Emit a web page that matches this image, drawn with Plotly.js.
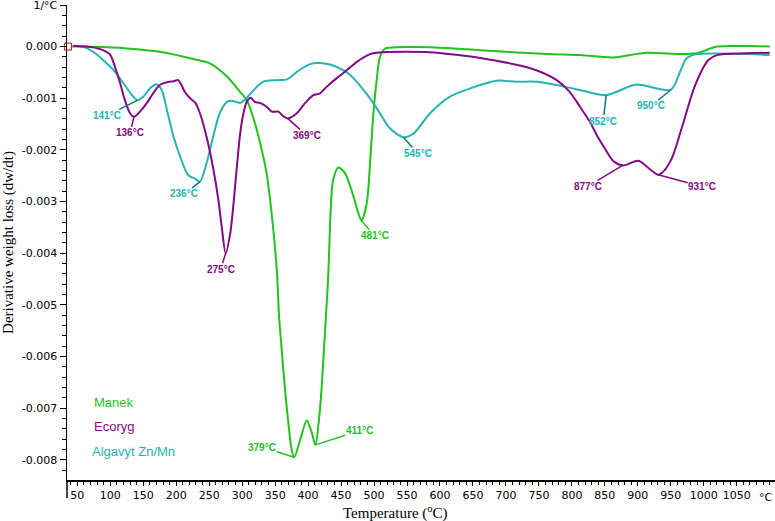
<!DOCTYPE html>
<html><head><meta charset="utf-8">
<script src="https://cdn.plot.ly/plotly-3.0.1.min.js"></script>
<style>html,body{margin:0;padding:0;background:#fff}#chart{width:775px;height:521px}</style>
</head><body><div id="chart"></div>
<script>
// ---- data ----
const manekT = [42,74,125,175,226,251,277,297,307,317,327,337,347,353,356,360,365,370,375,379,388,398,405,411,417,421,424,427,430,432,434,438,446,456,469,476,481,489,494,499,504,509,517,534,585,661,762,812,863,913,964,989,1020,1065,1100];
const manekV = [0,-0.000004,-0.000035,-0.0001,-0.00024,-0.000325,-0.00058,-0.00088,-0.001035,-0.00138,-0.00185,-0.00245,-0.00351,-0.00442,-0.00523,-0.00587,-0.00664,-0.00728,-0.0078,-0.00795,-0.00761,-0.00724,-0.00745,-0.00771,-0.00716,-0.00651,-0.00587,-0.00523,-0.00457,-0.00394,-0.00322,-0.00258,-0.00234,-0.00245,-0.00291,-0.00322,-0.00337,-0.00303,-0.00225,-0.00129,-0.00065,-0.0002,-0.000035,-0.000015,-0.000015,-0.00007,-0.000145,-0.000165,-0.00021,-0.00012,-0.000145,-0.00013,0,0.00001,0];

const ecorygT = [44,74,89,100,107,115,122,130,136,145,155,165,175,186,196,203,208,213,221,229,236,246,256,264,269,275,282,287,292,297,302,307,313,319,327,337,345,355,362,369,383,395,408,418,428,443,459,474,494,514,585,625,661,736,777,797,812,827,838,848,863,878,901,918,931,940,952,966,987,1007,1020,1065,1100];
const ecorygV = [0.000015,-0.000015,-0.00007,-0.00016,-0.00039,-0.00071,-0.00103,-0.00129,-0.00136,-0.00126,-0.0011,-0.000905,-0.000745,-0.00069,-0.00067,-0.00065,-0.000745,-0.000875,-0.001,-0.00109,-0.00129,-0.001745,-0.00235,-0.00297,-0.003485,-0.004,-0.00361,-0.00303,-0.002325,-0.00168,-0.00129,-0.00107,-0.00099,-0.00107,-0.00109,-0.001165,-0.00126,-0.00126,-0.001345,-0.00139,-0.00129,-0.0011,-0.00094,-0.000905,-0.00078,-0.000615,-0.000455,-0.000295,-0.000145,-0.00011,-0.00011,-0.00016,-0.00022,-0.000415,-0.00065,-0.00088,-0.00116,-0.00145,-0.00172,-0.00193,-0.00222,-0.0023,-0.00221,-0.00237,-0.00248,-0.0024,-0.00215,-0.0016,-0.000745,-0.00026,-0.000165,-0.00013,-0.00012];

const algavytT = [44,59,74,89,105,120,133,141,150,160,170,178,186,196,206,218,229,236,246,256,266,277,284,297,304,312,332,352,368,383,403,423,443,464,484,504,524,545,560,585,615,646,661,686,716,747,787,817,852,898,950,964,972,977,989,1065,1100];
const algavytV = [0.000015,-0.000004,-0.0001,-0.00026,-0.000455,-0.00071,-0.00094,-0.001035,-0.00097,-0.00081,-0.00073,-0.00084,-0.00123,-0.001745,-0.00213,-0.002485,-0.00256,-0.002615,-0.00226,-0.001745,-0.00129,-0.00107,-0.00105,-0.00109,-0.001035,-0.00092,-0.00068,-0.00065,-0.000635,-0.00049,-0.00034,-0.000325,-0.00039,-0.00055,-0.00084,-0.00119,-0.00158,-0.001755,-0.00168,-0.00129,-0.00097,-0.00081,-0.000745,-0.00066,-0.00068,-0.00068,-0.00077,-0.000855,-0.00094,-0.000735,-0.000835,-0.00049,-0.00026,-0.0002,-0.000145,-0.000145,-0.000165];

// peak labels
const manekPeakT = [379, 411, 481];
const manekPeakV = [-0.00795, -0.00771, -0.00337];
const ecorygPeakT = [136, 275, 369, 877, 931];
const ecorygPeakV = [-0.00136, -0.0040, -0.00139, -0.0023, -0.00248];
const algavytPeakT = [141, 236, 545, 852, 950];
const algavytPeakV = [-0.00104, -0.00262, -0.00176, -0.00094, -0.00084];

// start marker
const startT = [36];
const startV = [0];

// ticks
const xTickVals = [50,100,150,200,250,300,350,400,450,500,550,600,650,700,750,800,850,900,950,1000,1050];
const xTickText = ["50","100","150","200","250","300","350","400","450","500","550","600","650","700","750","800","850","900","950","1000","1050"];
const xUnitLabel = "°C";
const yTickVals = [-0.008,-0.007,-0.006,-0.005,-0.004,-0.003,-0.002,-0.001,0,0.0008];
const yTickText = ["-0.008","-0.007","-0.006","-0.005","-0.004","-0.003","-0.002","-0.001","0.000","1/°C"];

const seriesNames = ["Manek", "Ecoryg", "Algavyt Zn/Mn"];

// ---- styles ----
const GREEN = '#22c21f', PURPLE = '#840a84', TEAL = '#25b3b3', TEAL_DARK = '#127676';
const manekOff = [[-32,-10],[44,-14],[13,15]];
const ecorygOff = [[-4,16],[-5,16],[19,17],[-35,21],[44,12]];
const algavytOff = [[-30,15],[-16,12],[14,16],[-3,26],[-20,16]];

function peakAnns(T, V, off, color, lineColor) {
  return T.map((t, i) => ({
    x: t, y: V[i], xref: 'x', yref: 'y',
    text: '<b>' + t + '°C</b>',
    showarrow: true, arrowhead: 0, arrowwidth: 1.5, arrowcolor: lineColor,
    standoff: 0, startstandoff: 0, axref: 'pixel', ayref: 'pixel',
    ax: off[i][0], ay: off[i][1], borderpad: 0,
    font: {family: 'Liberation Sans, Arial, sans-serif', size: 10, color: color}
  }));
}

const lineBase = {mode: 'lines', type: 'scatter', hoverinfo: 'skip', showlegend: false};
const traces = [
  Object.assign({}, lineBase, {x: manekT, y: manekV, name: seriesNames[0], line: {color: GREEN, width: 2, shape: 'spline', smoothing: 0.8}}),
  Object.assign({}, lineBase, {x: algavytT, y: algavytV, name: seriesNames[2], line: {color: TEAL, width: 2, shape: 'spline', smoothing: 0.8}}),
  Object.assign({}, lineBase, {x: ecorygT, y: ecorygV, name: seriesNames[1], line: {color: PURPLE, width: 2, shape: 'spline', smoothing: 0.8}}),
  {type: 'scatter', mode: 'markers', x: startT, y: startV, showlegend: false, hoverinfo: 'skip', cliponaxis: false,
   marker: {symbol: 'square-open', size: 7, color: 'red', line: {width: 1, color: 'red'}}}
];

const legendColors = [GREEN, PURPLE, TEAL];
const legendY = [0.163, 0.112, 0.061];
const legendX = [0.035, 0.035, 0.0325];
const legendAnns = seriesNames.map((n, i) => ({
  xref: 'paper', yref: 'paper', x: legendX[i], y: legendY[i], xanchor: 'left', yanchor: 'middle',
  text: n, showarrow: false, font: {family: 'Liberation Sans, Arial, sans-serif', size: 13, color: legendColors[i]}
}));

const tickFont = {family: 'DejaVu Sans, Verdana, sans-serif', size: 11, color: '#000'};

const annotations = [].concat(
  peakAnns(manekPeakT, manekPeakV, manekOff, GREEN, GREEN),
  peakAnns(ecorygPeakT, ecorygPeakV, ecorygOff, PURPLE, PURPLE),
  peakAnns(algavytPeakT, algavytPeakV, algavytOff, TEAL, TEAL_DARK),
  legendAnns,
  [{xref: 'paper', yref: 'paper', x: 0.4633, y: -0.068, xanchor: 'center', yanchor: 'middle', showarrow: false,
    text: 'Temperature (<sup>o</sup>C)', font: {family: 'Liberation Serif, Times New Roman, serif', size: 15, color: '#000'}},
   {xref: 'paper', yref: 'paper', x: 0.999, y: -0.02, xanchor: 'right', yanchor: 'top', showarrow: false,
    text: xUnitLabel, font: tickFont, borderpad: 0}]
);

const layout = {
  width: 775, height: 521,
  margin: {l: 67, r: 0, t: 5, b: 41, pad: 0},
  paper_bgcolor: '#fff', plot_bgcolor: '#fff',
  showlegend: false,
  xaxis: {
    range: [34.4, 1108], showgrid: false, zeroline: false,
    showline: true, linecolor: '#000', linewidth: 1.5,
    ticks: 'outside', ticklen: 4, tickwidth: 1, tickcolor: '#000',
    tickmode: 'array', tickvals: xTickVals, ticktext: xTickText, tickfont: tickFont,
    ticklabeloverflow: 'allow',
    minor: {ticks: 'outside', ticklen: 3, tickwidth: 1, tickcolor: '#000', tickmode: 'linear', tick0: 0, dtick: 10}
  },
  yaxis: {
    range: [-0.00839, 0.000805], showgrid: false, zeroline: false,
    showline: true, linecolor: '#000', linewidth: 1.5,
    ticks: 'outside', ticklen: 6, tickwidth: 1, tickcolor: '#000',
    tickmode: 'array', tickvals: yTickVals, ticktext: yTickText, tickfont: tickFont,
    ticklabeloverflow: 'allow',
    minor: {ticks: 'outside', ticklen: 4, tickwidth: 1, tickcolor: '#000', tickmode: 'linear', tick0: 0, dtick: 0.0002},
    title: {text: 'Derivative weight loss (dw/dt)', standoff: 4, font: {family: 'Liberation Serif, Times New Roman, serif', size: 15, color: '#000'}}
  },
  shapes: [{type: 'line', xref: 'paper', yref: 'paper', x0: 0, x1: 0, y0: 0, y1: -0.038, line: {color: '#000', width: 1.5}}],
  annotations: annotations
};

Plotly.newPlot('chart', traces, layout, {displayModeBar: false, staticPlot: true});
</script></body></html>
